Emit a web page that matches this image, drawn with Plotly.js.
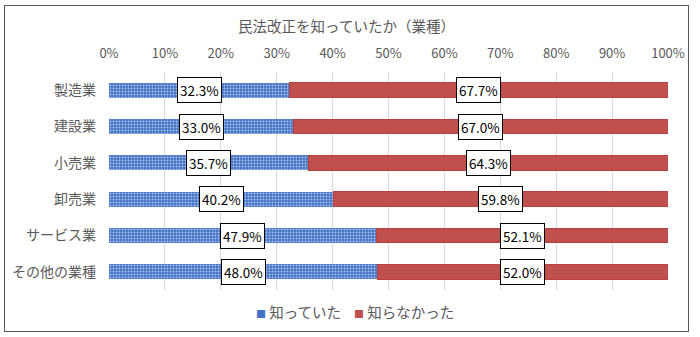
<!DOCTYPE html>
<html><head><meta charset="utf-8">
<script src="https://cdn.plot.ly/plotly-3.0.1.min.js"></script>
<style>
html,body{margin:0;padding:0;background:#fff;width:700px;height:337px;overflow:hidden}
#frame{position:absolute;left:4px;top:5px;width:683px;height:325px;border:1.5px solid #595959;background:#fff}
#chart{width:683px;height:325px}
</style></head>
<body><div id="frame"><div id="chart"></div></div>
<script>
const categories = ["製造業","建設業","小売業","卸売業","サービス業","その他の業種"];
const knew = [32.3, 33.0, 35.7, 40.2, 47.9, 48.0];
const didNotKnow = [67.7, 67.0, 64.3, 59.8, 52.1, 52.0];
const seriesNames = ["知っていた","知らなかった"];
const titleText = "民法改正を知っていたか（業種）";

const font = "'Noto Sans CJK JP', 'Noto Sans', sans-serif";
const blue = '#4472C4', red = '#C0504D';
const traces = [
  {type:'bar', orientation:'h', name:seriesNames[0], y:categories, x:knew.map(v=>v/100),
   marker:{color:blue, pattern:{shape:'.', fgcolor:'#A9C4EB', bgcolor:blue, size:3, solidity:0.35}, line:{width:0}},
   hoverinfo:'none'},
  {type:'bar', orientation:'h', name:seriesNames[1], y:categories, x:didNotKnow.map(v=>v/100),
   marker:{color:red, line:{color:'#B8403D', width:1}}, hoverinfo:'none'}
];
const annotations = [];
categories.forEach((c,i)=>{
  const a = knew[i]/100, b = didNotKnow[i]/100;
  [[a/2, knew[i]], [a + b/2, didNotKnow[i]]].forEach(([x,v])=>{
    annotations.push({x:x, y:c, xref:'x', yref:'y', text:v.toFixed(1)+'%', showarrow:false,
      font:{family:font, size:13.5, color:'#000'}, bgcolor:'#fff', bordercolor:'#000', borderwidth:1, borderpad:2});
  });
});
// legend drawn as text entries
annotations.push({xref:'paper', yref:'paper', x:0.26, y:-0.1, xanchor:'left', yanchor:'middle', showarrow:false,
  text:'<span style="color:'+blue+';font-size:10px">■</span> '+seriesNames[0], font:{family:font, size:14.5, color:'#595959'}});
annotations.push({xref:'paper', yref:'paper', x:0.435, y:-0.1, xanchor:'left', yanchor:'middle', showarrow:false,
  text:'<span style="color:'+red+';font-size:10px">■</span> '+seriesNames[1], font:{family:font, size:14.5, color:'#595959'}});

const layout = {
  width:683, height:325,
  margin:{l:104, r:20, t:66, b:41},
  paper_bgcolor:'#fff', plot_bgcolor:'#fff',
  title:{text:titleText, font:{family:font, size:14.5, color:'#595959'}, x:0.5, xanchor:'center', y:0.937, yanchor:'middle'},
  barmode:'stack', bargap:0.59,
  xaxis:{side:'top', range:[0,1], tickformat:'.0%', dtick:0.1, showgrid:true, gridcolor:'#D9D9D9', gridwidth:1,
         zeroline:false, showline:false, ticks:'', ticklabelstandoff:10, tickfont:{family:font, size:13, color:'#595959'}, fixedrange:true},
  yaxis:{autorange:'reversed', ticks:'', showline:false, ticklabelstandoff:12, tickfont:{family:font, size:14, color:'#595959'}},
  showlegend:false,
  annotations:annotations
};
Plotly.newPlot('chart', traces, layout, {displayModeBar:false, staticPlot:true});
</script></body></html>
